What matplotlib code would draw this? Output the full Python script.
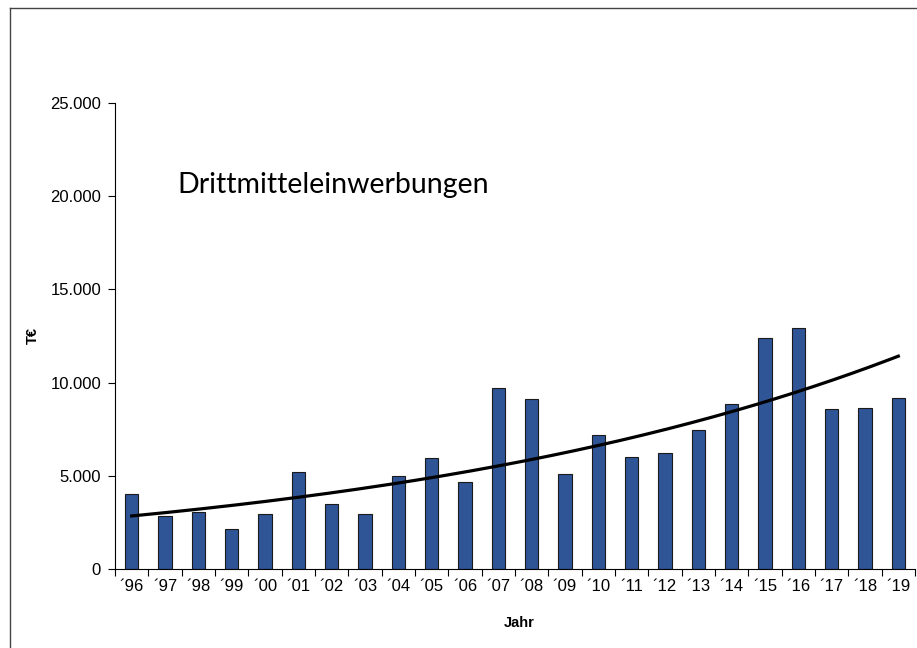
import numpy as np
import matplotlib
matplotlib.use("Agg")
import matplotlib.pyplot as plt
from matplotlib.lines import Line2D
from matplotlib.ticker import FuncFormatter, MultipleLocator

years = ["´96", "´97", "´98", "´99", "´00", "´01", "´02", "´03", "´04", "´05", "´06", "´07",
         "´08", "´09", "´10", "´11", "´12", "´13", "´14", "´15", "´16", "´17", "´18", "´19"]
funding = [4010, 2830, 3040, 2150, 2930, 5200, 3470, 2930, 4970, 5940, 4670, 9690,
           9100, 5110, 7190, 5990, 6240, 7440, 8870, 12410, 12950, 8580, 8640, 9170]

plt.rcParams['font.family'] = ['Liberation Sans', 'DejaVu Sans']

fig = plt.figure(figsize=(9.17, 6.48), dpi=100)
ax = fig.add_axes([115 / 917, 1 - 569 / 648, 800 / 917, 466 / 648])

x = np.arange(len(years))
ax.bar(x, funding, width=0.4, color='#2F5597', edgecolor='#1a1a1a', linewidth=0.8, zorder=2)

# exponential trend line (Excel style fit)
b, a = np.polyfit(x, np.log(funding), 1)
xs = np.linspace(0, len(years) - 1, 200)
ax.plot(xs, np.exp(a + b * xs), color='black', linewidth=2.3, zorder=3)

ax.set_xlim(-0.5, len(years) - 0.5)
ax.set_ylim(0, 25000)
ax.yaxis.set_major_locator(MultipleLocator(5000))
ax.yaxis.set_major_formatter(FuncFormatter(lambda v, p: f"{int(v):,}".replace(",", ".")))

ax.set_xticks(x)
ax.set_xticklabels(years)
ax.set_xticks(np.arange(-0.5, len(years)), minor=True)
ax.tick_params(axis='x', which='major', length=0, labelsize=12, pad=7)
ax.tick_params(axis='x', which='minor', length=5, width=0.8, direction='out')
ax.tick_params(axis='y', length=5, width=0.8, direction='out', labelsize=12, pad=5)

for side in ['top', 'right']:
    ax.spines[side].set_visible(False)
for side in ['left', 'bottom']:
    ax.spines[side].set_linewidth(0.8)

fig.text(519 / 917, 1 - 623 / 648, 'Jahr', fontsize=10.5, fontweight='bold',
         ha='center', va='center')
fig.text(33 / 917, 1 - 336 / 648, 'T€', fontsize=10.5, fontweight='bold',
         ha='center', va='center', rotation=90)

fig.text(177 / 917, 1 - 185 / 648, 'Drittmitteleinwerbungen',
         fontsize=20.5, family=['Lato', 'DejaVu Sans'], va='center', ha='left')

# outer frame
y_top = 1 - 8 / 648
fig.add_artist(Line2D([10 / 917, 10 / 917], [0, y_top], color='#444444', linewidth=1))
fig.add_artist(Line2D([10 / 917, 1], [y_top, y_top], color='#444444', linewidth=1))

fig.savefig('out.png', dpi=100)
